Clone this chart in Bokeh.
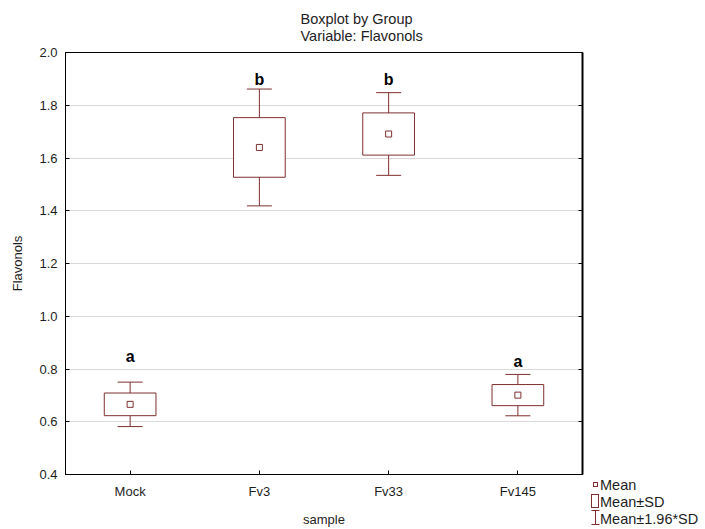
from bokeh.plotting import figure
from bokeh.models import (Range1d, LinearAxis, FixedTicker, PrintfTickFormatter,
                          ColumnDataSource, Whisker, TeeHead, Div)
from bokeh.layouts import row
from bokeh.embed import file_html
from bokeh.resources import INLINE
from bokeh.core.properties import value

# Flavonol content per sample group: mean and standard deviation
samples = ["Mock", "Fv3", "Fv33", "Fv145"]
means = [0.666, 1.640, 1.691, 0.701]
sds = [0.043, 0.113, 0.080, 0.040]

# significance groups and the height at which each letter is written
letters = ["a", "b", "b", "a"]
letter_y = [0.848, 1.897, 1.897, 0.829]

y_ticks = [0.4, 0.6, 0.8, 1.0, 1.2, 1.4, 1.6, 1.8, 2.0]

key_labels = ["Mean", "Mean±SD", "Mean±1.96*SD"]

FONT = "Liberation Sans"
MAROON = "#7f2f2f"
TEXT = "#1e1e1e"

PLOT_W, KEY_W, H = 590, 115, 529

pos = list(range(1, len(samples) + 1))

src = ColumnDataSource(dict(
    x=pos,
    mean=means,
    sd_lo=[m - s for m, s in zip(means, sds)],
    sd_hi=[m + s for m, s in zip(means, sds)],
    ci_lo=[m - 1.96 * s for m, s in zip(means, sds)],
    ci_hi=[m + 1.96 * s for m, s in zip(means, sds)],
    letter=letters,
    letter_y=letter_y,
))

p = figure(width=PLOT_W, height=H, x_range=Range1d(0.5, len(samples) + 0.5),
           y_range=Range1d(0.4, 2.0), output_backend="svg", toolbar_location=None,
           title="Boxplot by Group\nVariable: Flavonols",
           min_border_left=65, min_border_right=8, min_border_top=52,
           min_border_bottom=51, x_axis_location=None, y_axis_location=None)

p.title.align = "left"
p.title.offset = 235
p.title.standoff = 16
p.title.text_font = FONT
p.title.text_font_size = "14.5px"
p.title.text_font_style = "normal"
p.title.text_color = TEXT
p.title.text_line_height = 1.1

yticker = FixedTicker(ticks=y_ticks)

yaxis = LinearAxis(ticker=yticker, formatter=PrintfTickFormatter(format="%.1f"),
                   axis_label="Flavonols")
xaxis = LinearAxis(ticker=FixedTicker(ticks=pos), axis_label="sample",
                   major_label_overrides={i: s for i, s in zip(pos, samples)})
raxis = LinearAxis(ticker=yticker)

for ax in (yaxis, xaxis, raxis):
    ax.major_tick_in = 4
    ax.major_tick_out = 0
    ax.minor_tick_in = 0
    ax.minor_tick_out = 0
    ax.axis_line_color = "black"
    ax.major_tick_line_color = "black"
    ax.major_label_text_font = FONT
    ax.major_label_text_color = TEXT
    ax.axis_label_text_font = FONT
    ax.axis_label_text_font_style = "normal"
    ax.axis_label_text_color = TEXT
    ax.axis_label_text_font_size = "13px"
    ax.major_label_text_font_size = "13px"

yaxis.major_label_standoff = 8
yaxis.axis_label_standoff = 11
xaxis.major_label_standoff = 9
xaxis.axis_label_standoff = 10
raxis.major_label_text_font_size = "0px"
raxis.axis_line_width = 2

p.add_layout(yaxis, "left")
p.add_layout(xaxis, "below")
p.add_layout(raxis, "right")

p.outline_line_color = "black"
p.outline_line_width = 1
p.xgrid.grid_line_color = None
p.ygrid.ticker = yticker
p.ygrid.grid_line_color = "#d9d9d9"
p.ygrid.grid_line_width = 1

# Mean ± 1.96*SD whiskers, drawn beneath the boxes
whisk = Whisker(base="x", lower="ci_lo", upper="ci_hi", source=src,
                dimension="height", level="underlay", line_color=MAROON, line_width=1,
                upper_head=TeeHead(size=25, line_color=MAROON, line_width=1),
                lower_head=TeeHead(size=25, line_color=MAROON, line_width=1))
p.add_layout(whisk)

# Mean ± SD boxes
p.vbar(x="x", top="sd_hi", bottom="sd_lo", width=0.40, source=src,
       fill_color="white", line_color=MAROON, line_width=1)

# Means
p.scatter(x="x", y="mean", source=src, marker="square", size=6,
          fill_color="white", line_color=MAROON, line_width=1)

# Group letters
p.text(x="x", y="letter_y", text="letter", source=src,
       text_font=value(FONT), text_font_style="bold", text_font_size="16px",
       text_color="black", text_align="center", text_baseline="middle")

# Key for the three glyph types, in the lower right corner beside the plot
icons = (
    f'<rect x="3.5" y="482.5" width="4" height="4" fill="white" stroke="{MAROON}"/>'
    f'<rect x="1.5" y="494.5" width="7" height="13" fill="white" stroke="{MAROON}"/>'
    f'<path d="M1.5 510.5 H9.5 M5.5 510.5 V524.5 M1.5 524.5 H9.5" fill="none" '
    f'stroke="{MAROON}"/>'
)
rows_html = "".join(
    f'<span style="position:absolute;left:10px;top:{top}px;line-height:18px;'
    f'white-space:nowrap">{txt}</span>'
    for top, txt in zip([476, 492.5, 509.5], key_labels)
)
key_html = (
    f'<div style="position:relative;width:{KEY_W}px;height:{H}px;overflow:hidden;'
    f'font-family:\'{FONT}\';font-size:14.5px;color:{TEXT};background:white">'
    f'<svg style="position:absolute;left:0;top:0" width="{KEY_W}" height="{H}">{icons}</svg>'
    f'{rows_html}</div>'
)
key = Div(text=key_html, width=KEY_W, height=H, margin=0)

layout = row(p, key)
open("out.html", "w").write(file_html(layout, INLINE))
